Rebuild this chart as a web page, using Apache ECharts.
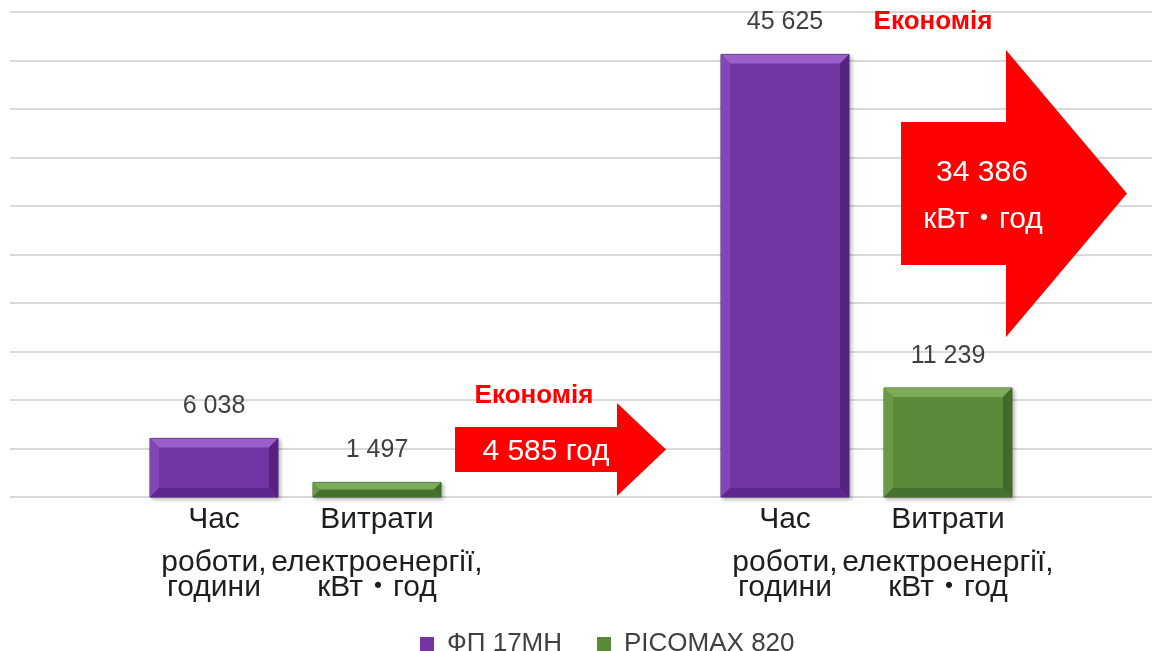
<!DOCTYPE html>
<html>
<head>
<meta charset="utf-8">
<style>
  html, body { margin: 0; padding: 0; background: #ffffff; }
  #chart { width: 1152px; height: 651px; }
</style>
<script src="https://cdn.jsdelivr.net/npm/echarts@6/dist/echarts.min.js"></script>
</head>
<body>
<div id="chart"></div>
<script>
// ---- data ----
const groups = ['Група 1', 'Група 2'];
const seriesNames = ['ФП 17МН', 'PICOMAX 820'];
const fp17Values = [6038, 45625];
const picomaxValues = [1497, 11239];
const fp17Caption = ['Час', 'роботи,', 'години'];
const picomaxCaption = ['Витрати', 'електроенергії,', 'кВт・год'];
const savingsTitle = 'Економія';
const savingsLabels = [['4 585 год'], ['34 386', 'кВт・год']];

// ---- styles ----
const FONT = '"Liberation Sans", Arial, "Noto Sans CJK SC", sans-serif';
const BAR_W = 128;
const BAR_GAP = 35;
const BEVEL = 9;
const palettes = [
  { base: '#7334a4', top: '#9b5ecb', left: '#8445b6', right: '#56217f', bottom: '#5f2690', stroke: '#4f1c78' },
  { base: '#5b8a3b', top: '#7dab5a', left: '#6a9948', right: '#41692a', bottom: '#46702d', stroke: '#3b5f24' }
];

function fmt(v) {
  return String(v).replace(/\B(?=(\d{3})+(?!\d))/g, ' ');
}

// Bevelled bar with its value above and a caption below the baseline
function makeRenderer(index, caption) {
  const pal = palettes[index];
  return function (params, api) {
    const cat = api.value(0);
    const val = api.value(1);
    const topPt = api.coord([cat, val]);
    const basePt = api.coord([cat, 0]);
    const offset = (index - 0.5) * (BAR_W + BAR_GAP);
    const x0 = topPt[0] + offset - BAR_W / 2;
    const x1 = x0 + BAR_W;
    const y0 = topPt[1];
    const y1 = basePt[1];
    const cx = (x0 + x1) / 2;
    const b = Math.min(BEVEL, (y1 - y0) / 2);
    const children = [
      { type: 'rect', shape: { x: x0, y: y0, width: BAR_W, height: y1 - y0 },
        style: { fill: pal.base, stroke: pal.stroke, lineWidth: 1,
                 shadowBlur: 4, shadowOffsetX: 2, shadowOffsetY: 2, shadowColor: 'rgba(0,0,0,0.28)' } },
      { type: 'polygon', shape: { points: [[x0, y0], [x1, y0], [x1 - b, y0 + b], [x0 + b, y0 + b]] },
        style: { fill: pal.top } },
      { type: 'polygon', shape: { points: [[x0, y0], [x0 + b, y0 + b], [x0 + b, y1 - b], [x0, y1]] },
        style: { fill: pal.left } },
      { type: 'polygon', shape: { points: [[x1, y0], [x1, y1], [x1 - b, y1 - b], [x1 - b, y0 + b]] },
        style: { fill: pal.right } },
      { type: 'polygon', shape: { points: [[x0, y1], [x1, y1], [x1 - b, y1 - b], [x0 + b, y1 - b]] },
        style: { fill: pal.bottom } },
      { type: 'text', style: { x: cx, y: y0 - 32, text: fmt(val), fill: '#404040',
        font: '25px ' + FONT, textAlign: 'center', textVerticalAlign: 'middle' } }
    ];
    const lineOffsets = [23, 66, 91];
    caption.forEach(function (line, i) {
      children.push({ type: 'text', style: { x: cx, y: y1 + lineOffsets[i], text: line, fill: '#1e1e1e',
        font: '30px ' + FONT, textAlign: 'center', textVerticalAlign: 'middle' } });
    });
    return { type: 'group', children: children };
  };
}

const chart = echarts.init(document.getElementById('chart'), null, { renderer: 'canvas' });

function arrowPoints(x0, bodyTop, bodyBottom, headX, headTop, headBottom, tipX) {
  const tipY = (headTop + headBottom) / 2;
  return [[x0, bodyTop], [headX, bodyTop], [headX, headTop], [tipX, tipY],
          [headX, headBottom], [headX, bodyBottom], [x0, bodyBottom]];
}

function textEl(x, y, text, font, color) {
  return { type: 'text', x: x, y: y, z: 20,
    style: { text: text, font: font, fill: color, align: 'center', verticalAlign: 'middle' } };
}

const graphics = [
  { type: 'polygon', z: 10, shape: { points: arrowPoints(455, 427, 472, 617, 403, 496, 666) }, style: { fill: '#ff0000' } },
  { type: 'polygon', z: 10, shape: { points: arrowPoints(901, 122, 265, 1006, 50, 337, 1127) }, style: { fill: '#ff0000' } },
  textEl(534, 396, savingsTitle, 'bold 26px ' + FONT, '#ff0000'),
  textEl(933, 22, savingsTitle, 'bold 26px ' + FONT, '#ff0000'),
  textEl(546, 452, savingsLabels[0][0], '30px ' + FONT, '#ffffff'),
  textEl(982, 173, savingsLabels[1][0], '30px ' + FONT, '#ffffff'),
  textEl(983, 220, savingsLabels[1][1], '30px ' + FONT, '#ffffff')
];

chart.setOption({
  animation: false,
  textStyle: { fontFamily: FONT },
  grid: { left: 10, right: 0, top: 12, bottom: 154, containLabel: false },
  xAxis: {
    type: 'category',
    data: groups,
    axisLine: { show: false },
    axisTick: { show: false },
    axisLabel: { show: false }
  },
  yAxis: {
    type: 'value',
    min: 0,
    max: 50000,
    interval: 5000,
    axisLine: { show: false },
    axisTick: { show: false },
    axisLabel: { show: false },
    splitLine: { lineStyle: { color: '#d9d9d9', width: 2 } }
  },
  legend: {
    left: 415,
    top: 625,
    icon: 'rect',
    itemWidth: 14,
    itemHeight: 14,
    itemGap: 35,
    data: seriesNames,
    textStyle: { fontSize: 26, color: '#404040', fontFamily: FONT, padding: [0, 0, 0, 8], lineHeight: 28 }
  },
  series: [
    {
      name: seriesNames[0], type: 'custom', clip: false,
      itemStyle: { color: palettes[0].base },
      encode: { x: 0, y: 1 },
      data: fp17Values.map(function (v, i) { return [i, v]; }),
      renderItem: makeRenderer(0, fp17Caption)
    },
    {
      name: seriesNames[1], type: 'custom', clip: false,
      itemStyle: { color: palettes[1].base },
      encode: { x: 0, y: 1 },
      data: picomaxValues.map(function (v, i) { return [i, v]; }),
      renderItem: makeRenderer(1, picomaxCaption)
    }
  ],
  graphic: graphics
});
</script>
</body>
</html>
